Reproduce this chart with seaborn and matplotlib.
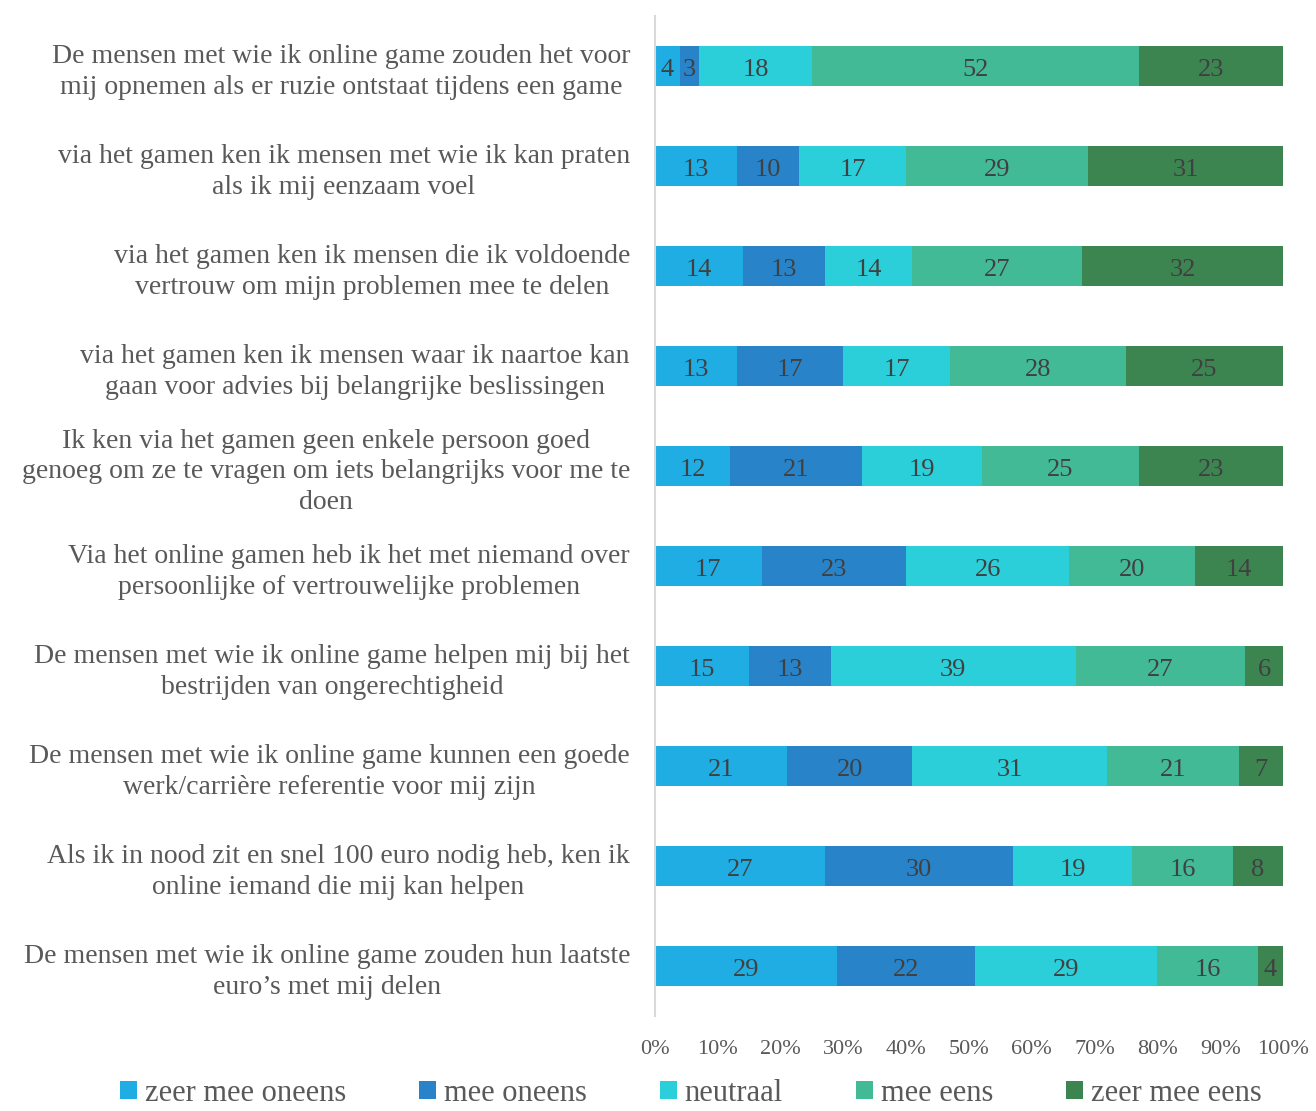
import matplotlib
matplotlib.use("Agg")
import matplotlib.pyplot as plt
import seaborn as sns
import numpy as np
import pandas as pd
from matplotlib.patches import Patch

sns.set_theme(style="white")
plt.rcParams['font.family'] = ['Liberation Serif', 'DejaVu Serif']

categories = [
    "De mensen met wie ik online game zouden het voor\nmij opnemen als er ruzie ontstaat tijdens een game",
    "via het gamen ken ik mensen met wie ik kan praten\nals ik mij eenzaam voel",
    "via het gamen ken ik mensen die ik voldoende\nvertrouw om mijn problemen mee te delen",
    "via het gamen ken ik mensen waar ik naartoe kan\ngaan voor advies bij belangrijke beslissingen",
    "Ik ken via het gamen geen enkele persoon goed\ngenoeg om ze te vragen om iets belangrijks voor me te\ndoen",
    "Via het online gamen heb ik het met niemand over\npersoonlijke of vertrouwelijke problemen",
    "De mensen met wie ik online game helpen mij bij het\nbestrijden van ongerechtigheid",
    "De mensen met wie ik online game kunnen een goede\nwerk/carrière referentie voor mij zijn",
    "Als ik in nood zit en snel 100 euro nodig heb, ken ik\nonline iemand die mij kan helpen",
    "De mensen met wie ik online game zouden hun laatste\neuro’s met mij delen",
]
series_names = ["zeer mee oneens", "mee oneens", "neutraal", "mee eens", "zeer mee eens"]
zeer_mee_oneens = [4, 13, 14, 13, 12, 17, 15, 21, 27, 29]
mee_oneens = [3, 10, 13, 17, 21, 23, 13, 20, 30, 22]
neutraal = [18, 17, 14, 17, 19, 26, 39, 31, 19, 29]
mee_eens = [52, 29, 27, 28, 25, 20, 27, 21, 16, 16]
zeer_mee_eens = [23, 31, 32, 25, 23, 14, 6, 7, 8, 4]
colors = ["#1FADE4", "#2983C9", "#2BCFDA", "#43BA96", "#3C8551"]

values = np.array([zeer_mee_oneens, mee_oneens, neutraal, mee_eens, zeer_mee_eens], dtype=float)
totals = values.sum(axis=0)
pct = values / totals * 100
cum = np.cumsum(pct, axis=0)

fig = plt.figure(figsize=(13.16, 11.11), dpi=100)
ax = fig.add_axes([655/1316, 1 - 1016/1111, 628/1316, 1000/1111])

for i in range(len(series_names) - 1, -1, -1):
    df = pd.DataFrame({"cat": categories, "val": cum[i]})
    sns.barplot(data=df, x="val", y="cat", color=colors[i], width=0.4,
                linewidth=0, saturation=1, ax=ax, orient="h")

for i in range(len(series_names)):
    start = cum[i] - pct[i]
    for j, c in enumerate(categories):
        ax.text(start[j] + pct[i][j] / 2, j + 0.04, f"{values[i][j]:.0f}", ha="center", va="center",
                fontsize=19, color="#404040")

ax.set_xlim(0, 100)
ax.set_ylim(9.5, -0.5)
ax.set_xticks(np.arange(0, 101, 10))
ax.set_xticklabels([f"{v}%" for v in range(0, 101, 10)], fontsize=16, color="#595959")
ax.set_xlabel("")
ax.set_ylabel("")
ax.tick_params(axis="x", length=0, pad=17)
ax.tick_params(axis="y", length=0, pad=18)
for lbl in ax.get_yticklabels():
    lbl.set_fontsize(20)
    lbl.set_color("#595959")
    lbl.set_multialignment("center")
    lbl.set_linespacing(1.3)
for s in ["top", "right", "bottom"]:
    ax.spines[s].set_visible(False)
ax.spines["left"].set_color("#D9D9D9")
ax.spines["left"].set_linewidth(1.5)

handles = [Patch(facecolor=c, edgecolor="none") for c in colors]
fig.legend(handles, series_names, loc="lower center", bbox_to_anchor=(0.525, -0.022), ncol=5,
           frameon=False, fontsize=22, handlelength=0.55, handleheight=0.55, handletextpad=0.25,
           columnspacing=2.4, labelcolor="#595959")

fig.savefig("out.png", dpi=100)
